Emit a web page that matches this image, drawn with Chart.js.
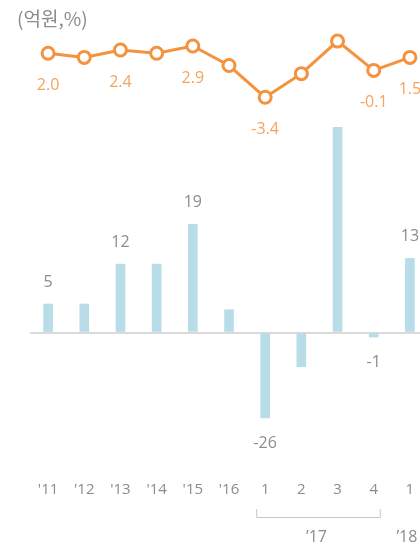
<!DOCTYPE html>
<html>
<head>
<meta charset="utf-8">
<script src="https://cdn.jsdelivr.net/npm/chart.js@4"></script>
<style>
  html, body { margin: 0; padding: 0; background: #fff; overflow: hidden; }
  #wrap { position: relative; width: 420px; height: 548px; overflow: hidden; }
  #unit { position: absolute; left: 17px; top: 5px; font: 19px "Noto Sans CJK KR", "Open Sans", sans-serif; color: #8c8c8c; line-height: 26px; }
  canvas { position: absolute; left: 0; top: 0; }
</style>
</head>
<body>
<div id="wrap">
  <canvas id="chart" width="440" height="548"></canvas>
  <div id="unit">(억원,%)</div>
</div>
<script>
const categories = ["'11", "'12", "'13", "'14", "'15", "'16", "1", "2", "3", "4", "1"];
const barValues = [5, 5, 12, 12, 19, 4, -15, -6, 36, -0.8, 13];
const barLabels = ["5", "", "12", "", "19", "", "-26", "", "", "-1", "13"];
const lineValues = [2.0, 1.5, 2.4, 2.0, 2.9, 0.5, -3.4, -0.5, 3.5, -0.1, 1.5];
const lineLabels = ["2.0", "", "2.4", "", "2.9", "", "-3.4", "", "", "-0.1", "1.5"];
const groups = [
    { name: "\u201917", first: 6, last: 9, bracket: true },
    { name: "\u201918", first: 10, last: 10, bracket: false }
];

const grey = "#8c8c8c";
const orange = "#f4923e";
const fontFamily = "'Open Sans', 'Noto Sans', sans-serif";

const labelPlugin = {
    id: "labels",
    afterDatasetsDraw(chart) {
        const ctx = chart.ctx;
        ctx.save();
        ctx.font = "16px " + fontFamily;
        ctx.textAlign = "center";
        ctx.textBaseline = "middle";

        ctx.fillStyle = grey;
        chart.getDatasetMeta(0).data.forEach(function (el, i) {
            if (!barLabels[i]) return;
            var y = barValues[i] >= 0 ? el.y - 22 : el.y + 25;
            ctx.fillText(barLabels[i], el.x, y);
        });

        ctx.fillStyle = "#f5a35e";
        chart.getDatasetMeta(1).data.forEach(function (el, i) {
            if (!lineLabels[i]) return;
            ctx.fillText(lineLabels[i], el.x, el.y + 32);
        });

        // year groups under the quarter ticks
        var xs = chart.scales.x;
        for (var g of groups) {
            var x1 = xs.getPixelForValue(g.first);
            var x2 = xs.getPixelForValue(g.last);
            if (g.bracket) {
                ctx.strokeStyle = "#c8c8c8";
                ctx.lineWidth = 1;
                ctx.beginPath();
                ctx.moveTo(x1 - 8.5, 509);
                ctx.lineTo(x1 - 8.5, 517.5);
                ctx.lineTo(x2 + 6.5, 517.5);
                ctx.lineTo(x2 + 6.5, 509);
                ctx.stroke();
            }
            ctx.fillStyle = grey;
            ctx.font = "16px " + fontFamily;
            ctx.fillText(g.name, (x1 + x2) / 2 - 3, 537);
        }
        ctx.restore();
    }
};

new Chart(document.getElementById("chart"), {
    data: {
        labels: categories,
        datasets: [{
            type: "bar",
            data: barValues,
            yAxisID: "y",
            backgroundColor: "#b9dde8",
            borderWidth: 0,
            barThickness: 9,
            order: 2
        }, {
            type: "line",
            data: lineValues,
            yAxisID: "y2",
            borderColor: orange,
            borderWidth: 3,
            pointRadius: 6,
            pointBorderWidth: 3,
            pointBackgroundColor: "#fff",
            pointBorderColor: orange,
            tension: 0,
            clip: false,
            order: 1
        }]
    },
    options: {
        responsive: false,
        animation: false,
        layout: { padding: { left: 30, right: 12, top: 10, bottom: 0 } },
        plugins: {
            legend: { display: false },
            tooltip: { enabled: false }
        },
        scales: {
            x: {
                type: "category",
                offset: true,
                grid: { display: false },
                border: { display: false },
                ticks: {
                    color: grey,
                    padding: 3,
                    maxRotation: 0,
                    autoSkip: false,
                    font: { size: 15, family: fontFamily }
                },
                afterFit(axis) { axis.height = 78; }
            },
            y: {
                position: "left",
                min: -24.12,
                max: 56.58,
                ticks: { display: false },
                border: { display: false },
                grid: {
                    drawTicks: false,
                    lineWidth: 2,
                    color: "#dadada"
                },
                afterBuildTicks(axis) { axis.ticks = [{ value: 0 }]; },
                afterFit(axis) { axis.width = 0; }
            },
            y2: {
                position: "right",
                min: -49.19,
                max: 7.32,
                display: false
            }
        }
    },
    plugins: [labelPlugin]
});
</script>
</body>
</html>
